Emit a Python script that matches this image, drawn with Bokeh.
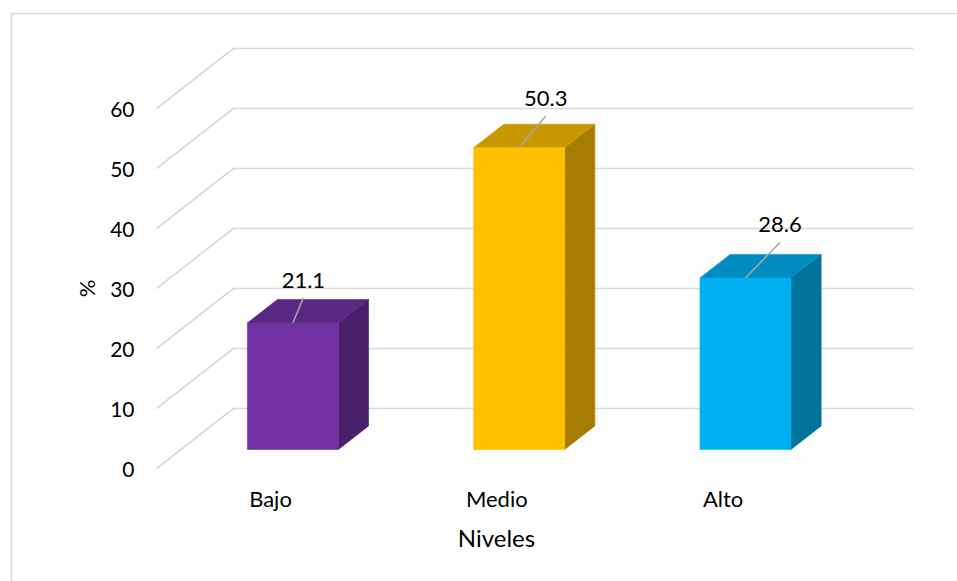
import numpy as np
from bokeh.plotting import figure
from bokeh.models import Range1d
from bokeh.core.properties import value
from bokeh.embed import file_html
from bokeh.resources import INLINE

# ---------------- data ----------------
categories = ["Bajo", "Medio", "Alto"]
percentages = [21.1, 50.3, 28.6]
data_labels = ["21.1", "50.3", "28.6"]
y_ticks = [0, 10, 20, 30, 40, 50, 60]
y_tick_labels = ["0", "10", "20", "30", "40", "50", "60"]
x_title = "Niveles"
y_title = "%"

# ---------------- styles ----------------
front_colors = ["#7030A0", "#FFC000", "#00B0F0"]
top_colors = ["#5A2782", "#C99800", "#008CC0"]
side_colors = ["#4A1F69", "#A67D00", "#00729C"]
grid_color = "#D9D9D9"
text_color = "#000000"
FONT = "Lato"

# data-label placement (pixel offsets from the bar's top-front centre)
label_dx_px = [10.5, 26.5, 34.5]
label_dy_px = [42.5, 49.0, 53.0]

# ---------------- layout (pixels) ----------------
W, H = 957, 581
X0_PX = 268.0      # first category, front plane
CAT_PX = 226.3     # distance between categories
Y0_PX = 468.0      # value 0 on the front plane
UNIT_PX = 6.0      # pixels per percentage point
DEPTH_DX_PX = 77.0
DEPTH_DY_PX = 60.0


def px_x(px):
    return (px - X0_PX) / CAT_PX


def px_y(py):
    return (Y0_PX - py) / UNIT_PX


DDX = DEPTH_DX_PX / CAT_PX
DDY = DEPTH_DY_PX / UNIT_PX

p = figure(width=W, height=H,
           x_range=Range1d(px_x(0), px_x(W)),
           y_range=Range1d(px_y(H), px_y(0)),
           x_axis_location=None, y_axis_location=None,
           output_backend="svg", toolbar_location=None,
           min_border=0, outline_line_color=None)
p.grid.visible = False
p.background_fill_color = "white"
p.border_fill_color = "white"

# outer chart-area border (left and top edges visible)
bx, by = px_x(11), px_y(13)
p.line([bx, bx, px_x(W + 20)], [px_y(H + 20), by, by],
       line_color=grid_color, line_width=1.6)

# walls: side-wall diagonals + back-wall gridlines
wall_x = px_x(156)
right_x = px_x(913)
gxs, gys = [], []
for v in y_ticks:
    gxs.append([wall_x, wall_x + DDX, right_x])
    gys.append([v, v + DDY, v + DDY])
p.multi_line(gxs, gys, line_color=grid_color, line_width=1.6)

# y tick labels (front plane)
p.text(x=[px_x(134)] * len(y_ticks), y=[v - 1.0 / UNIT_PX for v in y_ticks],
       text=y_tick_labels, text_align="right", text_baseline="middle",
       text_font=value(FONT), text_font_size="21px", text_color=text_color)

# 3D bars
T0 = 19.0 / DEPTH_DY_PX          # depth of bar front face
TD = 23.5 / DEPTH_DY_PX          # bar depth
BAR_W = 91.0 / CAT_PX
d_x, d_y = TD * DDX, TD * DDY

fx, fy, tx, ty, sx, sy = [], [], [], [], [], []
for i, v in enumerate(percentages):
    cx = i + T0 * DDX
    y0 = T0 * DDY
    xl, xr = cx - BAR_W / 2, cx + BAR_W / 2
    yt = y0 + v
    fx.append([xl, xr, xr, xl]); fy.append([y0, y0, yt, yt])
    tx.append([xl, xr, xr + d_x, xl + d_x]); ty.append([yt, yt, yt + d_y, yt + d_y])
    sx.append([xr, xr + d_x, xr + d_x, xr]); sy.append([y0, y0 + d_y, yt + d_y, yt])

p.patches(sx, sy, fill_color=side_colors, line_color=side_colors, line_width=0.6)
p.patches(tx, ty, fill_color=top_colors, line_color=top_colors, line_width=0.6)
p.patches(fx, fy, fill_color=front_colors, line_color=front_colors, line_width=0.6)

# data labels with leader lines
lx, ly, lxs, lys = [], [], [], []
for i, v in enumerate(percentages):
    bxp = i + T0 * DDX
    byp = T0 * DDY + v
    tx_ = bxp + label_dx_px[i] / CAT_PX
    ty_ = byp + label_dy_px[i] / UNIT_PX
    lx.append(tx_); ly.append(ty_)
    lxs.append([bxp, tx_]); lys.append([byp, ty_ - 17.5 / UNIT_PX])
p.multi_line(lxs, lys, line_color="#A6A6A6", line_width=1.5)
p.text(x=lx, y=ly, text=data_labels, text_align="center", text_baseline="middle",
       text_font=value(FONT), text_font_size="22px", text_color=text_color)

# category labels
p.text(x=[i + 2.0 / CAT_PX for i in range(len(categories))],
       y=[px_y(498)] * len(categories), text=categories,
       text_align="center", text_baseline="middle",
       text_font=value(FONT), text_font_size="22px", text_color=text_color)

# axis titles
p.text(x=[px_x(496)], y=[px_y(537)], text=[x_title], text_align="center",
       text_baseline="middle", text_font=value(FONT), text_font_size="24px",
       text_color=text_color)
p.text(x=[px_x(86)], y=[px_y(288)], text=[y_title], text_align="center",
       text_baseline="middle", angle=np.pi / 2, text_font=value(FONT),
       text_font_size="22px", text_color=text_color)

open("out.html", "w").write(file_html(p, INLINE))
